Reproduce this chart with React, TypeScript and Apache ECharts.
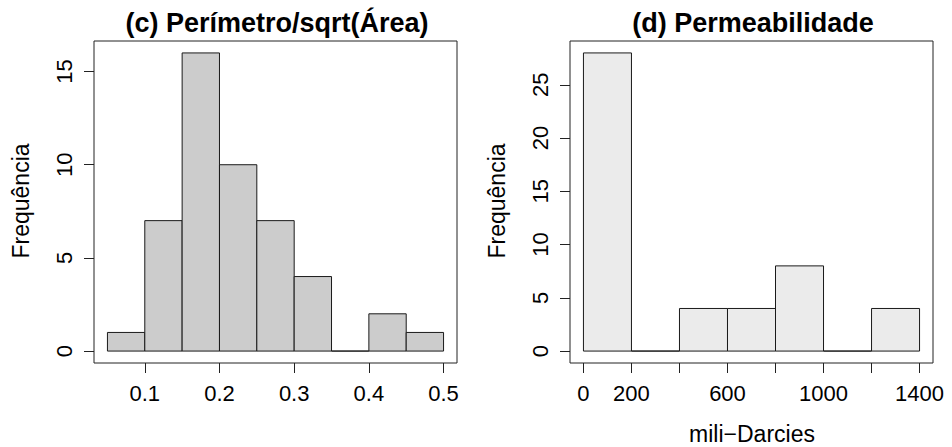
import React, { useEffect, useRef } from "react";
import * as echarts from "echarts";

// Left histogram: Perímetro/sqrt(Área)
const leftBreaks = [0.05, 0.1, 0.15, 0.2, 0.25, 0.3, 0.35, 0.4, 0.45, 0.5];
const leftCounts = [1, 7, 16, 10, 7, 4, 0, 2, 1];
const leftXTicks = [0.1, 0.2, 0.3, 0.4, 0.5];
const leftYTicks = [0, 5, 10, 15];

// Right histogram: Permeabilidade
const rightBreaks = [0, 200, 400, 600, 800, 1000, 1200, 1400];
const rightCounts = [28, 0, 4, 4, 8, 0, 4];
const rightXTicks = [0, 200, 400, 600, 800, 1000, 1200, 1400];
const rightXLabels = [0, 200, 600, 1000, 1400];
const rightYTicks = [0, 5, 10, 15, 20, 25];

const titleLeft = "(c) Perímetro/sqrt(Área)";
const titleRight = "(d) Permeabilidade";
const yName = "Frequência";
const xNameRight = "mili\u2212Darcies";

const FONT = "'Liberation Sans', Arial, Helvetica, sans-serif";
const LABEL_SIZE = 22;
const NAME_SIZE = 23;

function binsOf(breaks: number[], counts: number[]) {
  return counts.map((c, i) => [breaks[i], breaks[i + 1], c]);
}

function ext(lo: number, hi: number) {
  const d = (hi - lo) * 0.04;
  return [lo - d, hi + d];
}

export default function App() {
  const ref = useRef<HTMLDivElement>(null);
  useEffect(() => {
    if (!ref.current) return;
    const chart = echarts.init(ref.current, undefined, { renderer: "svg" });

    const lx = ext(leftBreaks[0], leftBreaks[leftBreaks.length - 1]);
    const ly = ext(0, Math.max(...leftCounts));
    const rx = ext(rightBreaks[0], rightBreaks[rightBreaks.length - 1]);
    const ry = ext(0, Math.max(...rightCounts));

    const makeRender = (fill: string) => (params: any, api: any) => {
      const x0 = api.value(0);
      const x1 = api.value(1);
      const c = api.value(2);
      const p0 = api.coord([x0, c]);
      const p1 = api.coord([x1, 0]);
      return {
        type: "rect",
        shape: { x: p0[0], y: p0[1], width: p1[0] - p0[0], height: p1[1] - p0[1] },
        style: { fill, stroke: "#1a1a1a", lineWidth: 1 },
      };
    };

    const fmt = (v: number) => String(v);

    const xAxisBase = (gridIndex: number, range: number[], ticks: number[], labels: number[]) => ({
      type: "value",
      gridIndex,
      min: range[0],
      max: range[1],
      axisLine: { show: false, onZero: false },
      splitLine: { show: false },
      axisTick: {
        show: true,
        length: 10,
        customValues: ticks,
        lineStyle: { color: "#222", width: 1 },
      },
      axisLabel: {
        show: true,
        customValues: labels,
        formatter: fmt,
        margin: 19,
        fontSize: LABEL_SIZE,
        fontFamily: FONT,
        color: "#000",
        hideOverlap: false,
        showMinLabel: true,
        showMaxLabel: true,
      },
    });

    const yAxisBase = (gridIndex: number, range: number[], ticks: number[]) => ({
      type: "value",
      gridIndex,
      min: range[0],
      max: range[1],
      axisLine: { show: false, onZero: false },
      splitLine: { show: false },
      axisTick: {
        show: true,
        length: 10,
        customValues: ticks,
        lineStyle: { color: "#222", width: 1 },
      },
      axisLabel: {
        show: true,
        customValues: ticks,
        formatter: fmt,
        rotate: 90,
        margin: 19,
        fontSize: LABEL_SIZE,
        fontFamily: FONT,
        color: "#000",
        hideOverlap: false,
      },
    });

    chart.setOption({
      animation: false,
      backgroundColor: "#ffffff",
      grid: [
        {
          left: 94,
          top: 41,
          width: 363,
          height: 322,
          show: true,
          borderColor: "#222",
          borderWidth: 1,
          backgroundColor: "transparent",
        },
        {
          left: 570,
          top: 41,
          width: 363,
          height: 322,
          show: true,
          borderColor: "#222",
          borderWidth: 1,
          backgroundColor: "transparent",
        },
      ],
      xAxis: [
        xAxisBase(0, lx, leftXTicks, leftXTicks),
        xAxisBase(1, rx, rightXTicks, rightXLabels),
      ],
      yAxis: [yAxisBase(0, ly, leftYTicks), yAxisBase(1, ry, rightYTicks)],
      series: [
        {
          type: "custom",
          xAxisIndex: 0,
          yAxisIndex: 0,
          renderItem: makeRender("#cccccc"),
          encode: { x: [0, 1], y: 2 },
          data: binsOf(leftBreaks, leftCounts),
        },
        {
          type: "custom",
          xAxisIndex: 1,
          yAxisIndex: 1,
          renderItem: makeRender("#ebebeb"),
          encode: { x: [0, 1], y: 2 },
          data: binsOf(rightBreaks, rightCounts),
        },
      ],
      graphic: [
        {
          type: "text",
          x: 277,
          y: 23,
          style: {
            text: titleLeft,
            font: `bold 27px ${FONT}`,
            fill: "#000",
            align: "center",
            verticalAlign: "middle",
          },
        },
        {
          type: "text",
          x: 753,
          y: 23,
          style: {
            text: titleRight,
            font: `bold 27px ${FONT}`,
            fill: "#000",
            align: "center",
            verticalAlign: "middle",
          },
        },
        {
          type: "text",
          x: 21,
          y: 201,
          rotation: Math.PI / 2,
          style: {
            text: yName,
            font: `${NAME_SIZE}px ${FONT}`,
            fill: "#000",
            align: "center",
            verticalAlign: "middle",
          },
        },
        {
          type: "text",
          x: 497,
          y: 201,
          rotation: Math.PI / 2,
          style: {
            text: yName,
            font: `${NAME_SIZE}px ${FONT}`,
            fill: "#000",
            align: "center",
            verticalAlign: "middle",
          },
        },
        {
          type: "text",
          x: 752,
          y: 434,
          style: {
            text: xNameRight,
            font: `${NAME_SIZE}px ${FONT}`,
            fill: "#000",
            align: "center",
            verticalAlign: "middle",
          },
        },
      ],
    });
    return () => chart.dispose();
  }, []);
  return (
    <div
      ref={ref}
      style={{ position: "fixed", left: 0, top: 0, width: 952, height: 447, background: "#fff" }}
    />
  );
}
